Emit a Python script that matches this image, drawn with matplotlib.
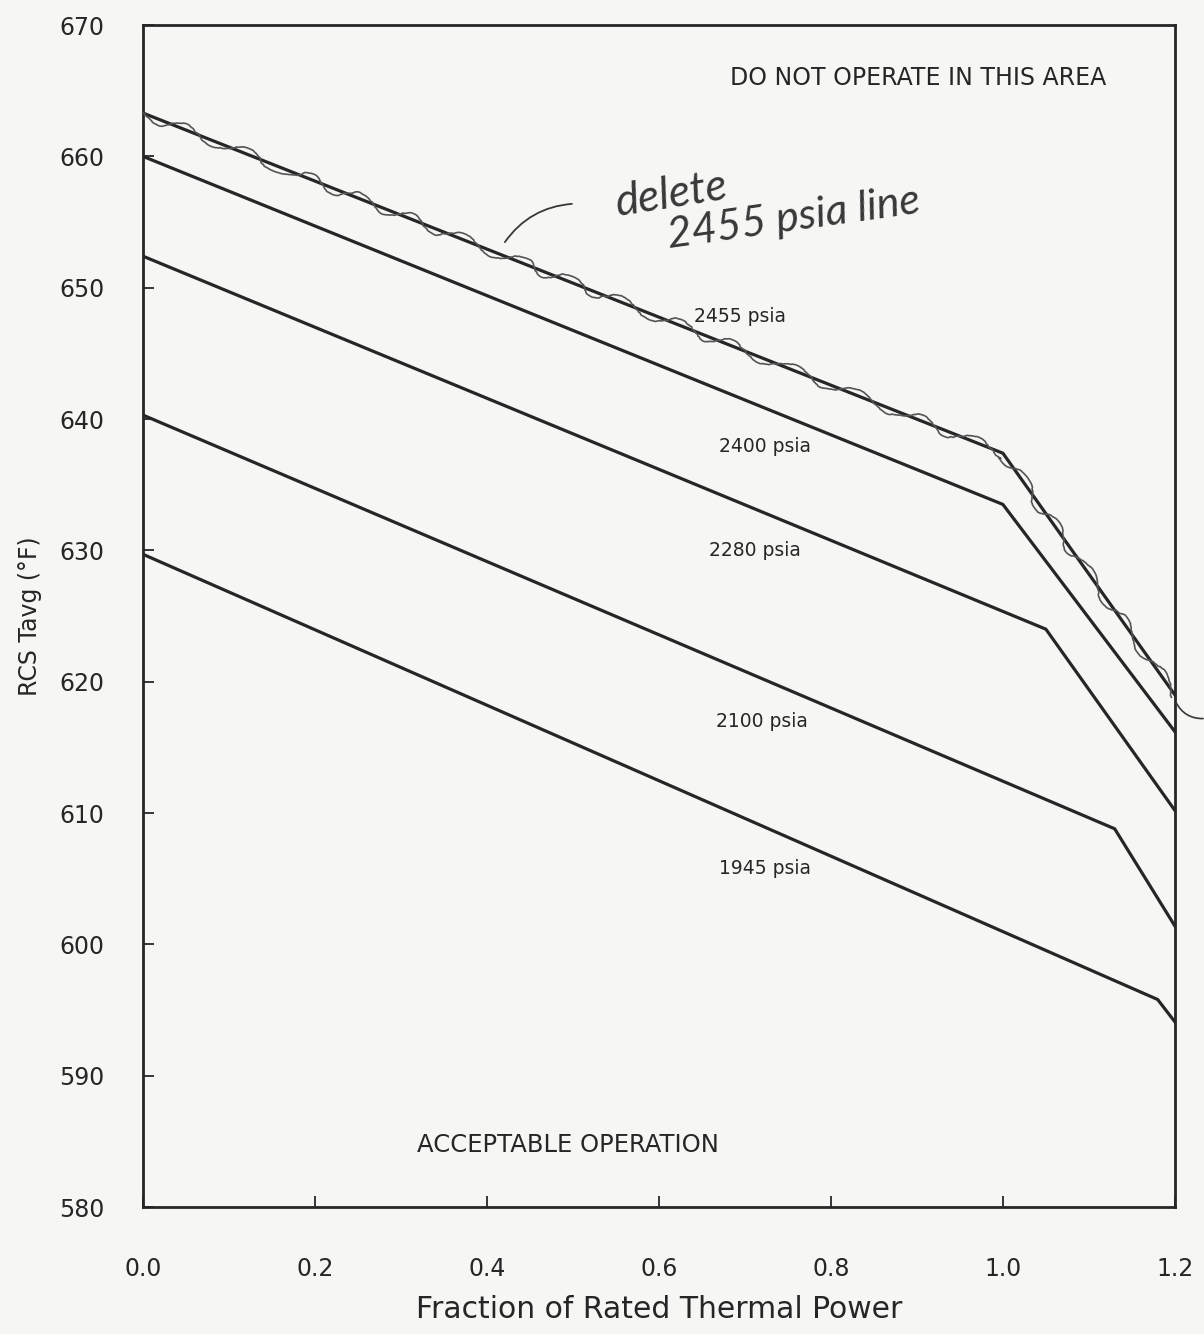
import numpy as np
import matplotlib
matplotlib.use("Agg")
import matplotlib.pyplot as plt

# pressure curves: (fraction of rated thermal power, Tavg) break points
pressures = ["2455", "2400", "2280", "2100", "1945"]
power_2455 = [0.0, 1.0, 1.2]
tavg_2455 = [663.3, 637.4, 619.0]
power_2400 = [0.0, 1.0, 1.2]
tavg_2400 = [660.0, 633.5, 616.2]
power_2280 = [0.0, 1.05, 1.2]
tavg_2280 = [652.4, 624.0, 610.2]
power_2100 = [0.0, 1.13, 1.2]
tavg_2100 = [640.3, 608.8, 601.4]
power_1945 = [0.0, 1.18, 1.2]
tavg_1945 = [629.7, 595.8, 594.1]

curves = {
    "2455": (power_2455, tavg_2455),
    "2400": (power_2400, tavg_2400),
    "2280": (power_2280, tavg_2280),
    "2100": (power_2100, tavg_2100),
    "1945": (power_1945, tavg_1945),
}

# where the "xxxx psia" labels sit
label_pos = {
    "2455": (0.694, 647.8),
    "2400": (0.723, 637.9),
    "2280": (0.712, 630.0),
    "2100": (0.720, 617.0),
    "1945": (0.723, 605.8),
}

x_ticks = [0.0, 0.2, 0.4, 0.6, 0.8, 1.0, 1.2]
y_ticks = list(range(580, 671, 10))

plt.rcParams['font.family'] = ['DejaVu Sans']
ink = '#262626'
pen = '#383838'

fig = plt.figure(figsize=(12.04, 13.34), dpi=100, facecolor='#f6f6f4')
ax = fig.add_axes([0.1188, 0.0952, 0.857, 0.886])
ax.set_facecolor('#f6f6f4')

for p in pressures:
    xs, ys = curves[p]
    ax.plot(xs, ys, color=ink, lw=2.3, solid_joinstyle='miter', zorder=3)
    lx, ly = label_pos[p]
    ax.text(lx, ly, p + " psia", fontsize=13.5, color=ink, ha='center', va='center')

# hand-drawn scribble over the 2455 psia line
scribble, = ax.plot(power_2455, tavg_2455, color='#555555', lw=1.2, zorder=4)
scribble.set_sketch_params(scale=6, length=85, randomness=4)

hand = dict(family=['Lato', 'DejaVu Sans'], style='italic', weight='normal', color=pen)
ax.text(0.615, 657.1, "delete", fontsize=32, rotation=9, ha='center', va='center',
        rotation_mode='anchor', **hand)
ax.text(0.757, 655.3, "2455 psia line", fontsize=31, rotation=8, ha='center',
        va='center', rotation_mode='anchor', **hand)
ax.annotate("", xy=(0.502, 656.4), xytext=(0.419, 653.3),
            arrowprops=dict(arrowstyle='-', color=pen, lw=1.3,
                            connectionstyle='arc3,rad=-0.25'))
# small pen stroke leaving the frame on the right
ax.annotate("", xy=(1.236, 617.2), xytext=(1.2, 618.6), annotation_clip=False,
            arrowprops=dict(arrowstyle='-', color=pen, lw=1.2,
                            connectionstyle='arc3,rad=0.35'))

ax.text(0.901, 666.0, "DO NOT OPERATE IN THIS AREA", fontsize=17, color=ink,
        ha='center', va='center')
ax.text(0.494, 584.7, "ACCEPTABLE OPERATION", fontsize=17.5, color=ink,
        ha='center', va='center')

ax.set_xlim(0.0, 1.2)
ax.set_ylim(580, 670)
ax.set_xticks(x_ticks)
ax.set_xticklabels([f"{t:.1f}" for t in x_ticks])
ax.set_yticks(y_ticks)
ax.tick_params(direction='in', length=8, width=1.3, colors=ink, labelsize=17,
               top=False, right=False)
ax.tick_params(axis='x', pad=36)
ax.tick_params(axis='y', pad=28)
for s in ax.spines.values():
    s.set_linewidth(2.0)
    s.set_color(ink)

ax.set_xlabel("Fraction of Rated Thermal Power", fontsize=21.5, color=ink, labelpad=10)
ax.set_ylabel("RCS Tavg (°F)", fontsize=17, color=ink, labelpad=12)

fig.savefig("out.png", dpi=100, facecolor=fig.get_facecolor())
